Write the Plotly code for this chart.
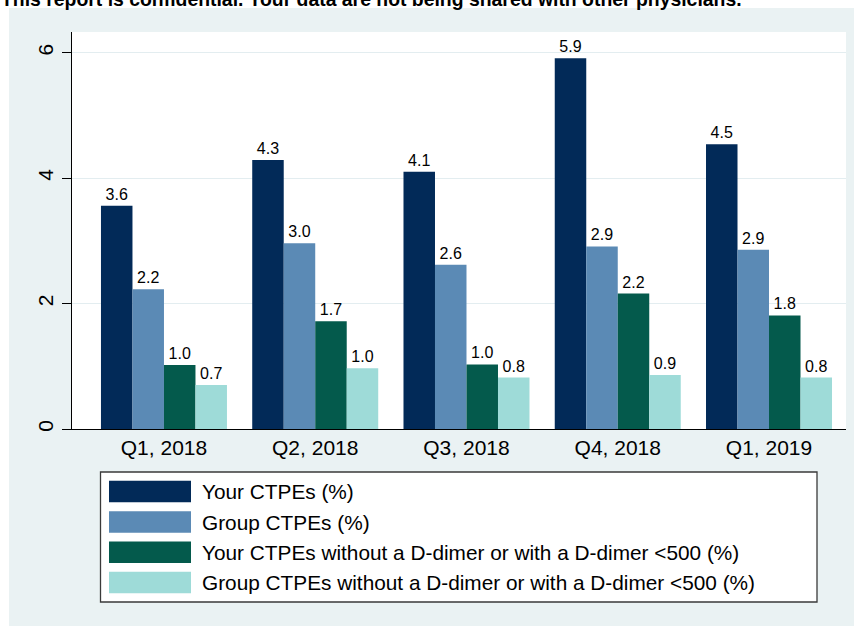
import plotly.graph_objects as go

# ---- data ----
quarters = ["Q1, 2018", "Q2, 2018", "Q3, 2018", "Q4, 2018", "Q1, 2019"]
series_names = [
    "Your CTPEs (%)",
    "Group CTPEs (%)",
    "Your CTPEs without a D-dimer or with a D-dimer <500 (%)",
    "Group CTPEs without a D-dimer or with a D-dimer <500 (%)",
]
your_ctpe = [3.56, 4.29, 4.10, 5.91, 4.54]
group_ctpe = [2.23, 2.96, 2.62, 2.91, 2.86]
your_no_ddimer = [1.02, 1.72, 1.03, 2.16, 1.81]
group_no_ddimer = [0.70, 0.97, 0.82, 0.86, 0.82]
y_ticks = [0, 2, 4, 6]
title_text = "This report is confidential. Your data are not being shared with other physicians."

series_values = [your_ctpe, group_ctpe, your_no_ddimer, group_no_ddimer]
colors = ["#022a58", "#5b8ab5", "#045a4c", "#9edbd8"]

FONT = "Liberation Sans, Arial, Helvetica, sans-serif"
W, H = 854, 626
ML, MR, MT, MB = 72, 8, 32, 197
PW = W - ML - MR
PH = H - MT - MB


def px(x):
    return (x - ML) / PW


def py(y):
    return (H - MB - y) / PH


fig = go.Figure()
for name, vals, col in zip(series_names, series_values, colors):
    fig.add_trace(go.Bar(
        x=quarters, y=vals, name=name,
        marker=dict(color=col, line=dict(width=0)),
        texttemplate="%{y:.1f}", textposition="outside",
        textfont=dict(family=FONT, size=16, color="black"),
        cliponaxis=False, constraintext="none",
        showlegend=False,
    ))

shapes = []
# white page strips outside the grey panel
shapes.append(dict(type="rect", xref="paper", yref="paper", x0=px(0), x1=px(9), y0=py(H), y1=py(0),
                   fillcolor="white", line=dict(width=0), layer="below"))
shapes.append(dict(type="rect", xref="paper", yref="paper", x0=px(0), x1=px(W), y0=py(8), y1=py(0),
                   fillcolor="white", line=dict(width=0), layer="below"))
# legend box
shapes.append(dict(type="rect", xref="paper", yref="paper", x0=px(100.5), x1=px(817), y0=py(602), y1=py(472),
                   fillcolor="white", line=dict(color="#3a3a3a", width=1.3), layer="above"))
annotations = []
row_centers = [491.5, 522, 552.3, 582.5]
for name, col, yc in zip(series_names, colors, row_centers):
    shapes.append(dict(type="rect", xref="paper", yref="paper", x0=px(109), x1=px(191),
                       y0=py(yc + 10.8), y1=py(yc - 10.8), fillcolor=col, line=dict(width=0), layer="above"))
    annotations.append(dict(xref="paper", yref="paper", x=px(200), y=py(yc), text=name, showarrow=False,
                            xanchor="left", yanchor="middle", font=dict(family=FONT, size=20.8, color="black")))

annotations.append(dict(xref="paper", yref="paper", x=px(-1), y=py(12), text="<b>" + title_text + "</b>",
                        showarrow=False, xanchor="left", yanchor="bottom",
                        font=dict(family=FONT, size=19.4, color="black")))

fig.update_layout(
    width=W, height=H,
    margin=dict(l=ML, r=MR, t=MT, b=MB, pad=0),
    paper_bgcolor="#eaf2f3", plot_bgcolor="white",
    barmode="group", bargap=0.167, bargroupgap=0,
    font=dict(family=FONT, color="black"),
    shapes=shapes, annotations=annotations,
    xaxis=dict(type="category", range=[-0.608, 4.509], showgrid=False, ticks="",
               showline=True, linecolor="black", linewidth=1.3,
               tickfont=dict(size=21, color="black"), zeroline=False),
    yaxis=dict(range=[0, 6.33], tickvals=y_ticks, ticktext=[str(t) for t in y_ticks],
               showgrid=True, gridcolor="#e3edf0", gridwidth=1,
               ticks="outside", ticklen=9, tickcolor="black", tickwidth=1.3,
               showline=True, linecolor="black", linewidth=1.3,
               tickangle=-90, tickfont=dict(size=21, color="black"), zeroline=False),
)

fig.write_html("out.html", config={"displayModeBar": False},
               post_script="document.body.style.margin='0';document.body.style.overflow='hidden';")
